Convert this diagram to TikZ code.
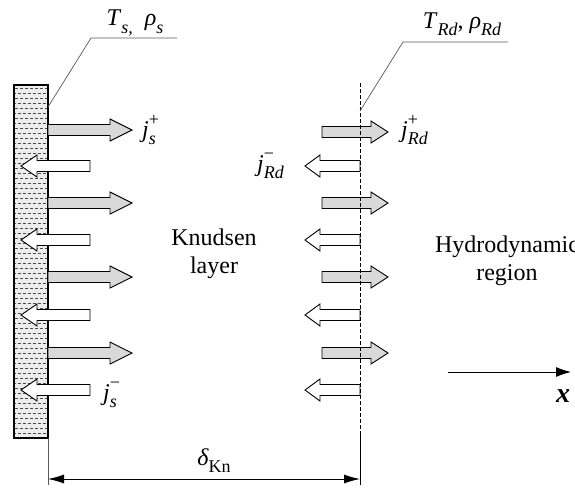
\documentclass[tikz,border=0pt]{standalone}
\usepackage{fontspec}
\setmainfont{Liberation Serif}
\usetikzlibrary{arrows.meta}
\tikzset{
  grayarrow/.style={draw=black, line width=0.9, fill=gray!30, line join=miter},
  whitearrow/.style={draw=black, line width=0.9, fill=white, line join=miter},
  leader/.style={draw=gray!70!black, line width=0.7},
  lbl/.style={inner sep=0, font=\fontsize{24}{28}\selectfont},
}
% right/left pointing arrow: style, tail x, head base x, tip x, centre y
\newcommand\rarr[5]{\filldraw[#1] (#2,#5-5.5) -- (#3,#5-5.5) -- (#3,#5-11) -- (#4,#5) -- (#3,#5+11) -- (#3,#5+5.5) -- (#2,#5+5.5) -- cycle;}
% hand-made sub- and superscripts
\newcommand\sbs[1]{\raisebox{-0.3em}{\fontsize{18}{18}\selectfont\itshape #1}}
\newcommand\sps[2]{\makebox[0pt][l]{\raisebox{0.5em}{\fontsize{18}{18}\selectfont #1}}\sbs{#2}}
\begin{document}
\begin{tikzpicture}[x=1pt,y=-1pt]
\useasboundingbox (0,0) rectangle (575,487);
% wall
\fill[gray!14] (14,85) rectangle (48,438);
\foreach \yy in {88,98,...,435} \draw[gray!60!black, line width=0.6, dash pattern=on 3pt off 2pt] (15,\yy) -- (47,\yy);
\foreach \yy in {93,103,...,435} \draw[gray!60!black, line width=0.6, dash pattern=on 3pt off 2pt, dash phase=2.5pt] (15,\yy) -- (47,\yy);
\draw[line width=1.3] (14,85) rectangle (48,438);
\coordinate (wallbot) at (48,438);
\coordinate (wallend) at (48,485);
\draw[gray!70!black, line width=0.6] (wallbot) -- (wallend);
% boundary of hydrodynamic region
\coordinate (btop) at (360,83);
\coordinate (bmid) at (360,433);
\coordinate (bend) at (360,485);
\draw[line width=0.6] (bmid) -- (bend);
% left arrows
\foreach \yy in {130,203,277,353} {\rarr{grayarrow}{48}{110}{132}{\yy}}
\foreach \yy in {166,240,315,390} {\rarr{whitearrow}{90}{37}{21}{\yy}}
% right arrows
\foreach \yy in {132,203,277,353} {\rarr{grayarrow}{322}{371}{388}{\yy}}
\foreach \yy in {166,240,315,390} {\rarr{whitearrow}{360}{320}{305}{\yy}}
\draw[line width=0.8, dash pattern=on 4pt off 2pt] (btop) -- (bmid);
% leaders and labels
\coordinate (sA) at (48,107);
\coordinate (sB) at (91,38);
\coordinate (sC) at (177,38);
\draw[leader] (sA) -- (sB) -- (sC);
\node[lbl] (Ts) at (135,23) {\textit{T}\sbs{s,}\ \ \textit{ρ}\sbs{s}};
\coordinate (rA) at (360,111);
\coordinate (rB) at (403,42);
\coordinate (rC) at (508,42);
\draw[leader] (rA) -- (rB) -- (rC);
\node[lbl] (TR) at (462,24) {\textit{T}\sbs{Rd}, \textit{ρ}\sbs{Rd}};
\node[lbl, anchor=west] (jsp) at (142,130) {\textit{j}\sps{+}{s}};
\node[lbl, anchor=west] (jsm) at (103,395) {\textit{j}\sps{\textminus}{s}};
\node[lbl, anchor=west] (jrp) at (401,130) {\textit{j}\sps{+}{Rd}};
\node[lbl, anchor=west] (jrm) at (257,166) {\textit{j}\sps{\textminus}{Rd}};
\node[lbl, align=center] (kn) at (214,254) {Knudsen\\layer};
\node[lbl, align=center] (hy) at (507,261) {Hydrodynamic\\region};
% x axis
\coordinate (xa) at (448,372);
\coordinate (xb) at (571,372);
\draw[line width=0.9, -{Latex[length=15pt,width=10pt]}] (xa) -- (xb);
\node[inner sep=0, font=\fontsize{28}{30}\selectfont\bfseries\itshape] (xl) at (563,396) {x};
% Knudsen layer thickness
\coordinate (dA) at (48,479);
\coordinate (dB) at (360,479);
\draw[line width=0.9, {Latex[length=16pt,width=9pt]}-{Latex[length=16pt,width=9pt]}] (dA) -- (dB);
\node[lbl] (dk) at (214,461) {\textit{δ}\sbs{\upshape Kn}};
\end{tikzpicture}
\end{document}
